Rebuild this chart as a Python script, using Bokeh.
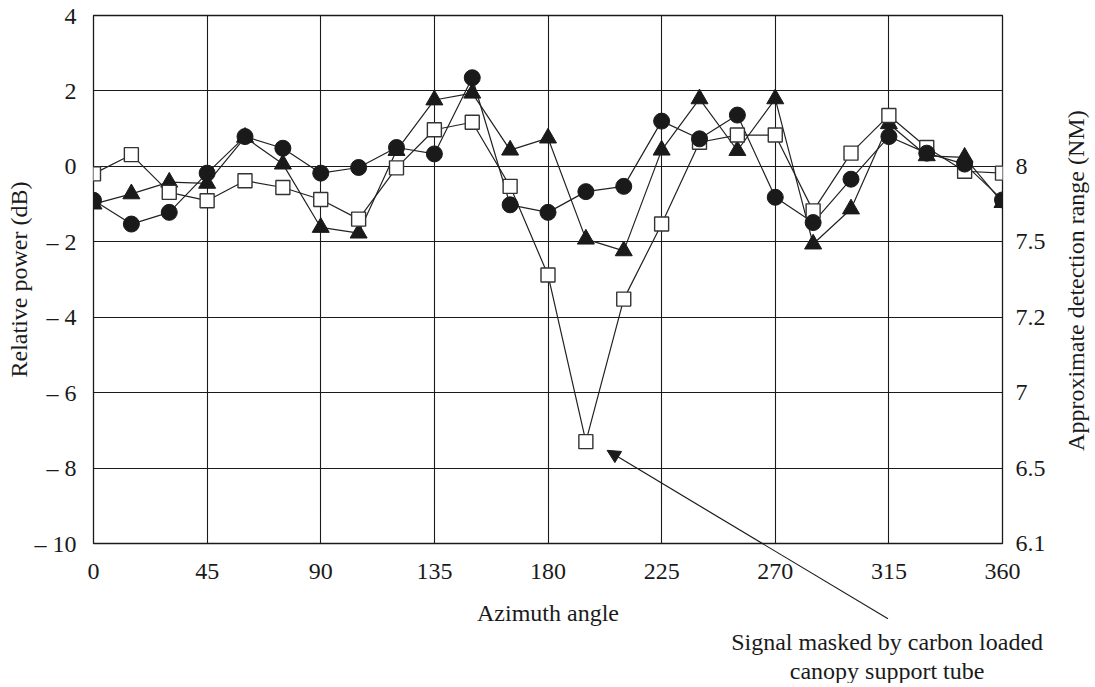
import math
from bokeh.plotting import figure
from bokeh.models import (Range1d, LinearAxis, FixedTicker, Label, Arrow, NormalHead)
from bokeh.embed import file_html
from bokeh.resources import INLINE

angles = [0, 15, 30, 45, 60, 75, 90, 105, 120, 135, 150, 165, 180,
          195, 210, 225, 240, 255, 270, 285, 300, 315, 330, 345, 360]
circles = [-0.90, -1.53, -1.22, -0.18, 0.79, 0.48, -0.18, -0.03, 0.50, 0.33, 2.35, -1.02, -1.22,
           -0.67, -0.53, 1.20, 0.73, 1.36, -0.82, -1.49, -0.34, 0.79, 0.35, 0.06, -0.89]
triangles = [-1.00, -0.73, -0.42, -0.45, 0.77, 0.06, -1.62, -1.77, 0.42, 1.76, 1.94, 0.43, 0.75,
             -1.93, -2.24, 0.43, 1.79, 0.42, 1.79, -2.06, -1.13, 1.13, 0.28, 0.24, -0.96]
squares = [-0.20, 0.31, -0.69, -0.91, -0.38, -0.56, -0.88, -1.40, -0.04, 0.97, 1.17, -0.53, -2.88,
           -7.30, -3.52, -1.53, 0.64, 0.83, 0.83, -1.18, 0.35, 1.35, 0.50, -0.13, -0.18]

x_ticks = [0, 45, 90, 135, 180, 225, 270, 315, 360]
y_ticks = [-10, -8, -6, -4, -2, 0, 2, 4]
y_tick_labels = ["– 10", "– 8", "– 6", "– 4", "– 2", "0", "2", "4"]
right_ticks = [-10, -8, -6, -4, -2, 0]
right_tick_labels = ["6.1", "6.5", "7", "7.2", "7.5", "8"]

FONT = "Liberation Serif"
FS = "24px"
INK = "#1a1a1a"

p = figure(frame_width=909, frame_height=528,
           min_border_left=93, min_border_right=88, min_border_top=15, min_border_bottom=140,
           x_range=Range1d(0, 360), y_range=Range1d(-10, 4),
           output_backend="svg", toolbar_location=None,
           background_fill_color="white", border_fill_color="white")

p.outline_line_color = INK
p.outline_line_width = 1.3

for g in (p.xgrid, p.ygrid):
    g.grid_line_color = INK
    g.grid_line_width = 1.1
p.xgrid.ticker = FixedTicker(ticks=x_ticks)
p.ygrid.ticker = FixedTicker(ticks=y_ticks)

xa = p.xaxis[0]
xa.ticker = FixedTicker(ticks=x_ticks)
xa.axis_label = "Azimuth angle"
ya = p.yaxis[0]
ya.ticker = FixedTicker(ticks=y_ticks)
ya.major_label_overrides = {t: s for t, s in zip(y_ticks, y_tick_labels)}
ya.axis_label = "Relative power (dB)"

ra = LinearAxis(ticker=FixedTicker(ticks=right_ticks))
ra.major_label_overrides = {t: s for t, s in zip(right_ticks, right_tick_labels)}
p.add_layout(ra, "right")

for ax in (xa, ya, ra):
    ax.axis_line_color = None
    ax.major_tick_line_color = None
    ax.minor_tick_line_color = None
    ax.major_tick_out = 0
    ax.major_tick_in = 0
    ax.minor_tick_out = 0
    ax.minor_tick_in = 0
    ax.major_label_text_font = FONT
    ax.major_label_text_font_size = FS
    ax.major_label_text_color = INK
    ax.axis_label_text_font = FONT
    ax.axis_label_text_font_size = FS
    ax.axis_label_text_font_style = "normal"
    ax.axis_label_text_color = INK
xa.major_label_standoff = 20
xa.axis_label_standoff = 18
ya.major_label_standoff = 17
ya.axis_label_standoff = 0
ra.major_label_standoff = 13

for ys in (triangles, squares, circles):
    p.line(angles, ys, line_color="#222222", line_width=1.2)

p.scatter(angles, triangles, marker="triangle", size=17, fill_color=INK, line_color=INK)
p.scatter(angles, squares, marker="square", size=14, fill_color="white", line_color="#333333",
          line_width=1.4)
p.scatter(angles, circles, marker="circle", size=16, fill_color=INK, line_color=INK)

# right axis title, reading bottom to top (side panel: not clipped to the frame)
p.add_layout(Label(x=389.3, y=-3.03, text="Approximate detection range (NM)", angle=math.pi / 2,
                   text_align="center", text_baseline="middle", text_font=FONT,
                   text_font_size=FS, text_color=INK), "right")

# annotation arrow: head part inside the frame
p.add_layout(Arrow(x_start=314.7, y_start=-12.0, x_end=203.4, y_end=-7.53,
                   line_color=INK, line_width=1.2,
                   end=NormalHead(size=13, fill_color=INK, line_color=INK)))
# shaft part below the frame, drawn as a thin filled label box
shaft_angle = -math.atan2(75.3, 125.7)
p.add_layout(Label(x=289.8, y=-11.0, text=" ", angle=shaft_angle,
                   text_align="center", text_baseline="middle",
                   text_font_size="1px", text_color=INK,
                   padding=(73, 0), background_fill_color=INK), "below")

p.add_layout(Label(x=314.3, y=-12.62, text="Signal masked by carbon loaded",
                   text_align="center", text_baseline="middle", text_font=FONT,
                   text_font_size=FS, text_color=INK), "below")
p.add_layout(Label(x=314.3, y=-13.37, text="canopy support tube",
                   text_align="center", text_baseline="middle", text_font=FONT,
                   text_font_size=FS, text_color=INK), "below")

open("out.html", "w").write(file_html(p, INLINE))
